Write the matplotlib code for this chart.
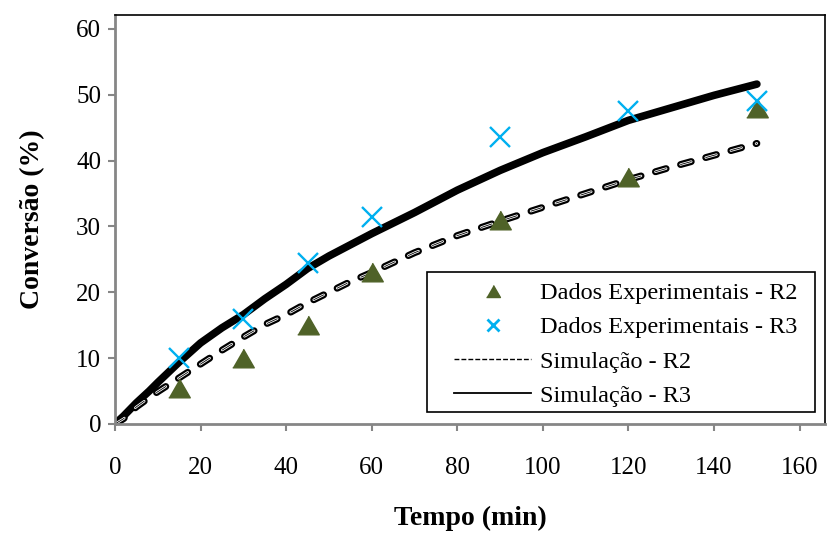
import numpy as np
import matplotlib.pyplot as plt
from matplotlib.lines import Line2D
from matplotlib.patches import Rectangle

plt.rcParams['font.family'] = ['Liberation Serif', 'DejaVu Serif']
plt.rcParams['lines.scale_dashes'] = False

# experimental points
t_exp = [15, 30, 45, 60, 90, 120, 150]
r2_exp = [5.5, 10, 15, 23, 31, 37.5, 48]
r3_exp = [10, 16, 24.5, 31.5, 43.5, 47.5, 49]

# simulated curves
t_sim = [0, 2, 5, 8, 10, 15, 20, 25, 30, 35, 40, 45, 50, 55, 60, 70, 80, 90, 100, 110, 120, 130, 140, 150]
r2_sim = [0, 0.8, 2.6, 4.0, 4.9, 7.0, 9.1, 11.2, 13.2, 15.1, 16.6, 18.4, 20.0, 21.6, 23.0,
          26.0, 28.6, 30.8, 32.9, 35.0, 37.1, 39.0, 40.8, 42.6]
r3_sim = [0, 1.2, 3.2, 5.0, 6.3, 9.4, 12.3, 14.6, 16.6, 19.0, 21.2, 23.6, 25.5, 27.2, 28.9,
          32.1, 35.5, 38.5, 41.2, 43.6, 46.1, 48.0, 49.9, 51.6]

olive = '#4F6228'
blue = '#00B0F0'
grey = '#868686'

tri = [(-1, -0.866), (1, -0.866), (0, 0.866)]

fig = plt.figure(figsize=(8.27, 5.34), dpi=100)
ax = fig.add_axes([0.139, 0.206, 0.859, 0.766])

# dashed curve: thick black dashes with white core and thin black centre
dash = (0, (8, 10.8))
ax.plot(t_sim, r2_sim, color='black', lw=5, ls=dash, dash_capstyle='round', zorder=2)
ax.plot(t_sim, r2_sim, color='white', lw=1.8, ls=dash, dash_capstyle='round', zorder=2.1)
ax.plot(t_sim, r2_sim, color='black', lw=0.6, ls=dash, dash_capstyle='round', zorder=2.2)
ax.plot(t_sim, r3_sim, color='black', lw=5.5, solid_capstyle='round',
        solid_joinstyle='round', zorder=2)

ax.plot(t_exp, r2_exp, ls='none', marker=tri, ms=15.5, color=olive, zorder=3)
ax.plot(t_exp, r3_exp, ls='none', marker='x', ms=15, mew=1.7, color=blue, zorder=3)

ax.set_xlim(0, 166)
ax.set_ylim(0, 62.1)
ax.set_xticks(np.arange(0, 161, 20))
ax.set_yticks(np.arange(0, 61, 10))
ax.tick_params(direction='out', length=5, width=1.5, color=grey, labelsize=18, pad=5)
ax.tick_params(axis='x', pad=19)
for s in ['left', 'bottom']:
    ax.spines[s].set_color(grey)
    ax.spines[s].set_linewidth(2)
for s in ['top', 'right']:
    ax.spines[s].set_color('black')
    ax.spines[s].set_linewidth(1.2)

ax.set_xlabel('Tempo (min)', fontsize=20, fontweight='bold', labelpad=19)
ax.set_ylabel('Conversão (%)', fontsize=20, fontweight='bold', labelpad=22)

# legend frame drawn separately so the padding matches the original
ax.add_patch(Rectangle((0.439, 0.029), 0.547, 0.343, transform=ax.transAxes,
                       facecolor='white', edgecolor='black', lw=1.2, zorder=4))

handles = [
    Line2D([], [], ls='none', marker=tri, ms=10, color=olive),
    Line2D([], [], ls='none', marker='x', ms=9, mew=2, color=blue),
    Line2D([], [], color='black', lw=1, ls=(0, (3.5, 1.5))),
    Line2D([], [], color='black', lw=1.3),
]
labels = ['Dados Experimentais - R2', 'Dados Experimentais - R3',
          'Simulação - R2', 'Simulação - R3']
leg = ax.legend(handles, labels, loc='lower right', bbox_to_anchor=(0.961, 0.042),
                fontsize=17.5, frameon=False, handlelength=3.2, handletextpad=0.36,
                labelspacing=0.5, borderpad=0, borderaxespad=0)
leg.set_zorder(5)

fig.savefig('out.png', dpi=100)
